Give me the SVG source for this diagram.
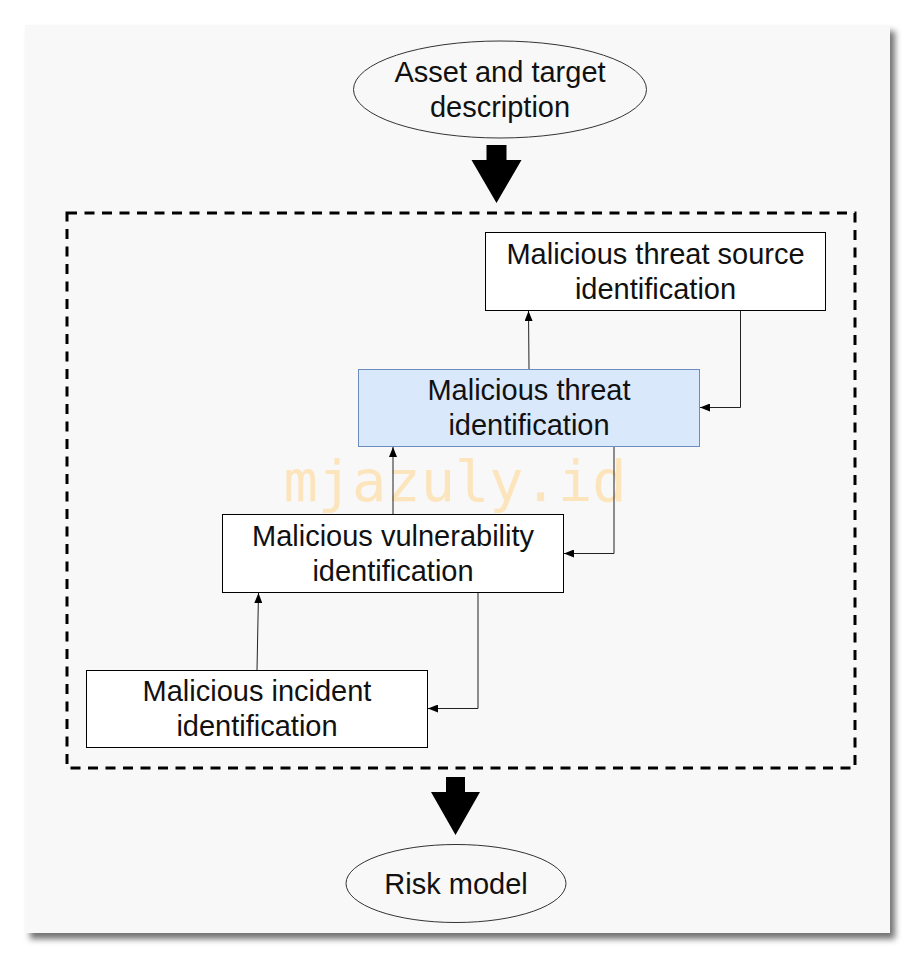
<svg xmlns="http://www.w3.org/2000/svg" width="915" height="959" viewBox="0 0 915 959">
  <defs>
    <filter id="shadow" x="-5%" y="-5%" width="115%" height="115%">
      <feDropShadow dx="5" dy="6" stdDeviation="3" flood-color="#000" flood-opacity="0.55"/>
    </filter>
    <marker id="arr" viewBox="0 0 10 8" refX="10" refY="4" markerWidth="10" markerHeight="8" markerUnits="userSpaceOnUse" orient="auto">
      <path d="M0,0 L10,4 L0,8 z" fill="#000"/>
    </marker>
  </defs>
  <style>
    .box { fill: #ffffff; stroke: #000; stroke-width: 1; }
    .blue { fill: #dae8fc; stroke: #6c8ebf; stroke-width: 1; }
    .ell { fill: #f8f8f8; stroke: #333; stroke-width: 1; }
    .lbl { font-family: "Liberation Sans", Arial, sans-serif; font-size: 29px; fill: #111; text-anchor: middle; }
    .conn { fill: none; stroke: #222; stroke-width: 1; marker-end: url(#arr); }
    .big { fill: #000; }
  </style>
  <rect x="0" y="0" width="915" height="959" fill="#ffffff"/>
  <rect x="25" y="25" width="865" height="908" fill="#f8f8f8" filter="url(#shadow)"/>

  <text x="455" y="501" font-family="'DejaVu Sans Mono', 'Liberation Mono', monospace" font-size="57" fill="#fce5bd" text-anchor="middle">mjazuly.id</text>

  <rect id="group" x="67" y="213" width="788" height="555" fill="none" stroke="#000" stroke-width="3" stroke-dasharray="10 7.5"/>

  <g id="asset">
    <ellipse class="ell" cx="500" cy="89.5" rx="146.5" ry="48.5"/>
    <text class="lbl" x="500" y="82">Asset and target</text>
    <text class="lbl" x="500" y="117">description</text>
  </g>

  <g id="source">
    <rect class="box" x="485.5" y="232.5" width="340" height="78"/>
    <text class="lbl" x="655.5" y="264">Malicious threat source</text>
    <text class="lbl" x="655.5" y="299">identification</text>
  </g>

  <g id="threat">
    <rect class="blue" x="358.5" y="369.5" width="341" height="77"/>
    <text class="lbl" x="529" y="400">Malicious threat</text>
    <text class="lbl" x="529" y="435">identification</text>
  </g>

  <g id="vulnerability">
    <rect class="box" x="222.5" y="514.5" width="341" height="78"/>
    <text class="lbl" x="393" y="546">Malicious vulnerability</text>
    <text class="lbl" x="393" y="581">identification</text>
  </g>

  <g id="incident">
    <rect class="box" x="86.5" y="670.5" width="341" height="77"/>
    <text class="lbl" x="257" y="701">Malicious incident</text>
    <text class="lbl" x="257" y="736">identification</text>
  </g>

  <g id="risk">
    <ellipse class="ell" cx="456" cy="883.5" rx="110" ry="39"/>
    <text class="lbl" x="456" y="893.5">Risk model</text>
  </g>

  <g id="connectors">
    <path class="conn" d="M529,369 L528.5,311"/>
    <path class="conn" d="M740.5,311 V407.5 H700"/>
    <path class="conn" d="M393,514 V447"/>
    <path class="conn" d="M614,447 V553.5 H564"/>
    <path class="conn" d="M257,670 L258.5,593"/>
    <path class="conn" d="M478,593 V708.5 H428"/>
    <polygon class="big" points="486.5,145 506.5,145 506.5,160 521.5,160 496.5,203 471.5,160 486.5,160"/>
    <polygon class="big" points="446,777 465,777 465,792 480,792 455.5,835 431,792 446,792"/>
  </g>
</svg>
